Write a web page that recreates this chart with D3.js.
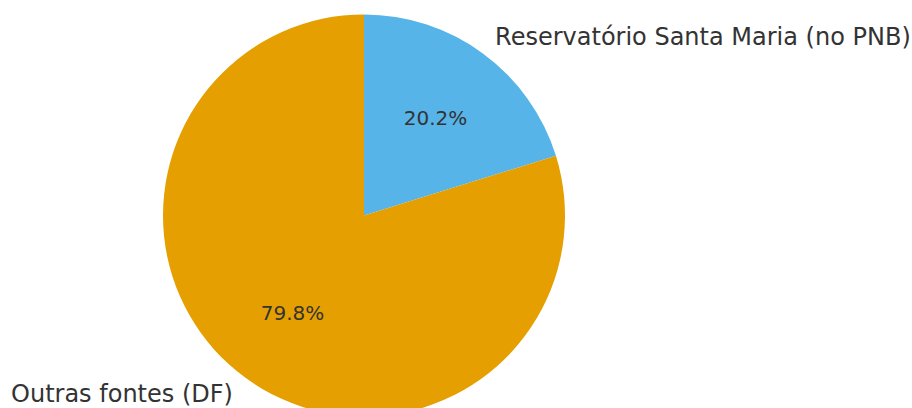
<!DOCTYPE html>
<html>
<head>
<meta charset="utf-8">
<script src="https://cdn.jsdelivr.net/npm/d3@7"></script>
<style>
	body { margin: 0; background: #fff; }
	svg { display: block; font-family: "DejaVu Sans", sans-serif; }
</style>
</head>
<body>
<script>
const labels = ["Reservatório Santa Maria (no PNB)", "Outras fontes (DF)"];
const values = [20.2, 79.8];
const colors = ["#56B4E9", "#E69F00"];

const width = 912, height = 408;
const cx = 364, cy = 215.5, r = 201;

let svg = d3.select("body").append("svg")
	.attr("width", width)
	.attr("height", height);

let pie = d3.pie().sort(null).value(d => d.value);
let arcs = pie(labels.map((l, i) => ({label: l, value: values[i], color: colors[i]})));

let arc = d3.arc().innerRadius(0).outerRadius(r);
let pctArc = d3.arc().innerRadius(r * 0.6).outerRadius(r * 0.6);
let labelArc = d3.arc().innerRadius(r * 1.1).outerRadius(r * 1.1);

let g = svg.append("g").attr("transform", `translate(${cx}, ${cy})`);

g.selectAll("path.slice")
	.data(arcs)
	.join("path")
	.attr("class", "slice")
	.attr("d", arc)
	.attr("fill", d => d.data.color);

g.selectAll("text.pct")
	.data(arcs)
	.join("text")
	.attr("class", "pct")
	.attr("transform", d => `translate(${pctArc.centroid(d)})`)
	.attr("text-anchor", "middle")
	.attr("dominant-baseline", "central")
	.attr("font-size", 20)
	.attr("fill", "#333")
	.text(d => d.data.value.toFixed(1) + "%");

g.selectAll("text.label")
	.data(arcs)
	.join("text")
	.attr("class", "label")
	.attr("transform", d => `translate(${labelArc.centroid(d)})`)
	.attr("text-anchor", d => labelArc.centroid(d)[0] >= 0 ? "start" : "end")
	.attr("dominant-baseline", "central")
	.attr("font-size", 24)
	.attr("fill", "#333")
	.text(d => d.data.label);
</script>
</body>
</html>
